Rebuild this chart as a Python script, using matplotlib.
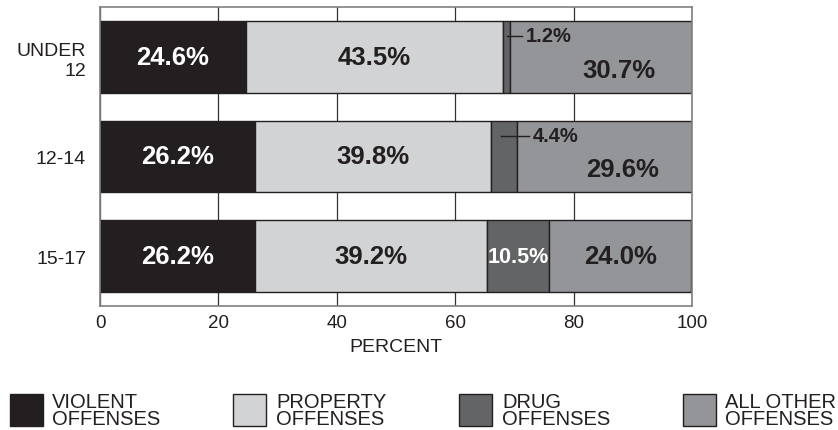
import matplotlib
matplotlib.use('Agg')
import matplotlib.pyplot as plt
from matplotlib.patches import Rectangle

plt.rcParams['font.family'] = ['Liberation Sans', 'DejaVu Sans']

# data
groups = ['UNDER\n12', '12-14', '15-17']
categories = ['VIOLENT\nOFFENSES', 'PROPERTY\nOFFENSES', 'DRUG\nOFFENSES', 'ALL OTHER\nOFFENSES']
violent = [24.6, 26.2, 26.2]
property_ = [43.5, 39.8, 39.2]
drug = [1.2, 4.4, 10.5]
other = [30.7, 29.6, 24.0]
xticks = [0, 20, 40, 60, 80, 100]

colors = ['#231f20', '#d1d3d4', '#636466', '#939598']
dark = '#231f20'

fig = plt.figure(figsize=(8.38, 4.31), dpi=100)
ax = fig.add_axes([100 / 838, 1 - 307 / 431, 592 / 838, 299 / 431])

series = [violent, property_, drug, other]
ypos = list(range(len(groups)))
left = [0.0] * len(groups)
for vals, c in zip(series, colors):
    ax.barh(ypos, vals, left=left, height=0.72, color=c, edgecolor=dark,
            linewidth=1.0, zorder=2)
    left = [l + v for l, v in zip(left, vals)]

# labels inside the segments
for i in ypos:
    starts = [0, violent[i], violent[i] + property_[i], violent[i] + property_[i] + drug[i]]
    ax.text(starts[0] + violent[i] / 2, i, f'{violent[i]:.1f}%', ha='center', va='center',
            color='white', fontsize=18.5, fontweight='bold', zorder=3)
    ax.text(starts[1] + property_[i] / 2, i, f'{property_[i]:.1f}%', ha='center', va='center',
            color=dark, fontsize=18.5, fontweight='bold', zorder=3)
    if drug[i] > 6:
        ax.text(starts[2] + drug[i] / 2, i, f'{drug[i]:.1f}%', ha='center', va='center',
                color='white', fontsize=15.5, fontweight='bold', zorder=3)
        ax.text(starts[3] + other[i] / 2, i, f'{other[i]:.1f}%', ha='center', va='center',
                color=dark, fontsize=18.5, fontweight='bold', zorder=3)
    else:
        # small drug share: leader line + label above the "other" value
        mid = starts[2] + drug[i] / 2
        ax.plot([mid - 0.4 if drug[i] > 2 else mid, starts[3] + 2.0], [i - 0.21, i - 0.21],
                color=dark, lw=1.0, zorder=3)
        ax.text(starts[3] + 2.7, i - 0.21, f'{drug[i]:.1f}%', ha='left', va='center',
                color=dark, fontsize=14.5, fontweight='bold', zorder=3)
        ax.text(starts[3] + other[i] / 2 + 3.0, i + 0.13, f'{other[i]:.1f}%', ha='center',
                va='center', color=dark, fontsize=18.5, fontweight='bold', zorder=3)

ax.set_xlim(0, 100)
ax.set_ylim(2.5, -0.5)
ax.set_xticks(xticks)
ax.set_xticklabels([str(t) for t in xticks], fontsize=13.5)
ax.set_yticks(ypos)
ax.set_yticklabels(groups, fontsize=14, ha='right', linespacing=1.25)
ax.tick_params(length=0, pad=6, colors=dark)
ax.tick_params(axis='y', pad=10)
ax.grid(axis='x', color='#333333', lw=0.9, zorder=1)
for s in ax.spines.values():
    s.set_color('#808080')
    s.set_linewidth(1.2)
ax.set_xlabel('PERCENT', fontsize=14, color=dark, labelpad=5)

# legend
sq_x = [10, 233, 459, 683]
tx_x = [52, 276, 502, 725]
for c, label, sx, tx in zip(colors, categories, sq_x, tx_x):
    fig.patches.append(Rectangle((sx / 838, 1 - 427 / 431), 33 / 838, 32 / 431,
                                 transform=fig.transFigure, facecolor=c,
                                 edgecolor=dark, lw=1.0))
    fig.text(tx / 838, 1 - 411 / 431, label, ha='left', va='center', fontsize=14.5,
             color=dark, linespacing=0.88)

fig.savefig('out.png', dpi=100)
